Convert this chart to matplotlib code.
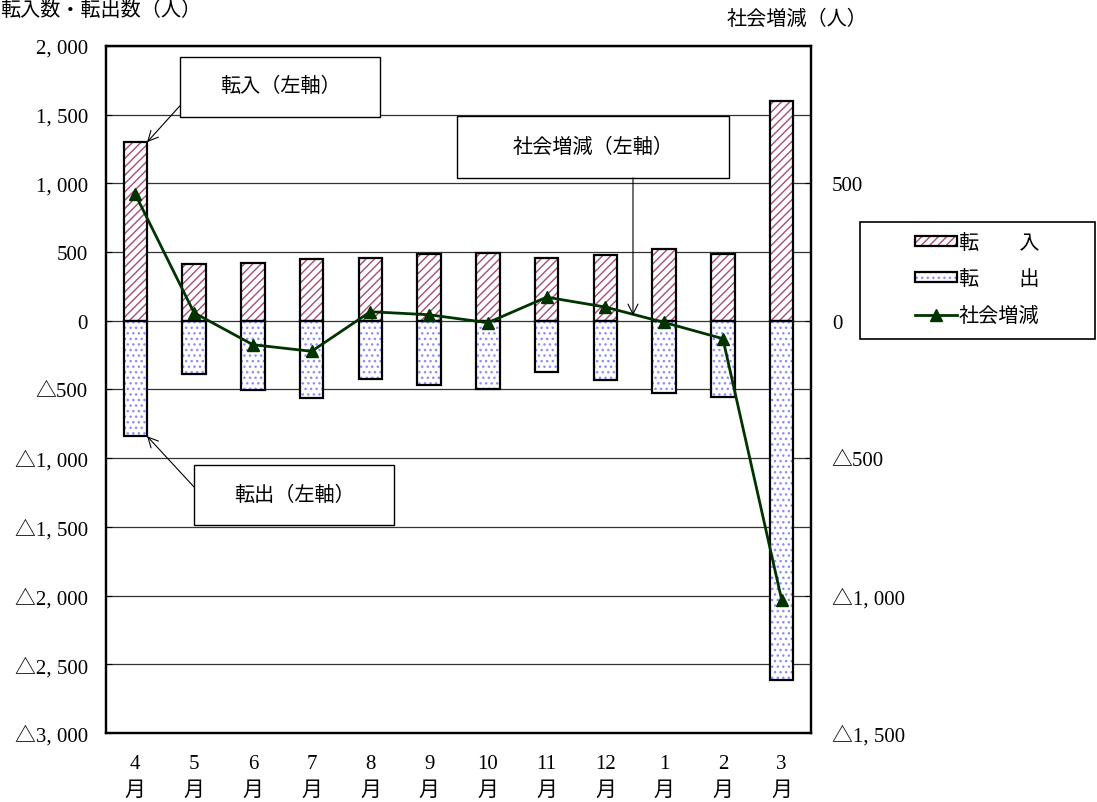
import matplotlib.pyplot as plt
from matplotlib.patches import Patch, Rectangle
from matplotlib.lines import Line2D
from matplotlib.legend_handler import HandlerTuple

plt.rcParams['font.family'] = ['Liberation Serif', 'Noto Sans CJK JP', 'DejaVu Sans']

# データ（4月〜翌3月）
months = ['4\n月', '5\n月', '6\n月', '7\n月', '8\n月', '9\n月',
          '10\n月', '11\n月', '12\n月', '1\n月', '2\n月', '3\n月']
tennyu = [1300, 413, 420, 449, 456, 486, 493, 456, 478, 522, 486, 1601]
tenshutsu = [-840, -384, -507, -560, -423, -464, -500, -370, -428, -528, -551, -2616]
shakai = [a + b for a, b in zip(tennyu, tenshutsu)]

left_ticks = [-3000, -2500, -2000, -1500, -1000, -500, 0, 500, 1000, 1500, 2000]
left_labels = ['△3, 000', '△2, 500', '△2, 000', '△1, 500', '△1, 000', '△500',
               '0', '500', '1, 000', '1, 500', '2, 000']
right_ticks = [-1500, -1000, -500, 0, 500]
right_labels = ['△1, 500', '△1, 000', '△500', '0', '500']

c_in = '#a64d79'
c_out = '#8c8cff'
c_line = '#003300'
h_in = '////'
h_out = '...'

fig = plt.figure(figsize=(10.97, 8.03), dpi=100)
ax = fig.add_axes([0.0966, 0.0859, 0.6427, 0.8556])
x = list(range(len(months)))

ax.bar(x, tennyu, 0.4, color='white', edgecolor=c_in, hatch=h_in, linewidth=0, zorder=2)
ax.bar(x, tennyu, 0.4, fill=False, edgecolor='black', linewidth=1.6, zorder=3)
ax.bar(x, tenshutsu, 0.4, color='white', edgecolor=c_out, hatch=h_out, linewidth=0, zorder=2)
ax.bar(x, tenshutsu, 0.4, fill=False, edgecolor='black', linewidth=1.6, zorder=3)

ax.set_xlim(-0.5, 11.5)
ax.set_ylim(-3000, 2000)
ax.set_yticks(left_ticks, left_labels)
ax.set_xticks(x, months, linespacing=1.55)
ax.yaxis.grid(True, color='#333333', linewidth=0.9)
ax.set_axisbelow(True)
ax.tick_params(axis='y', direction='in', length=4, pad=13, labelsize=15)
ax.tick_params(axis='x', length=0, pad=15, labelsize=15)

ax2 = ax.twinx()
ax2.plot(x, shakai, color=c_line, linewidth=2, marker='^', markersize=9, zorder=4)
ax2.set_ylim(-1500, 1000)
ax2.set_yticks(right_ticks, right_labels)
ax2.tick_params(axis='y', direction='in', length=4, pad=15, labelsize=15)

for a in (ax, ax2):
    for s in a.spines.values():
        s.set_linewidth(1.6)

# 吹き出し
boxes = [
    ((0.105, 0.897, 0.284, 0.087), '転入（左軸）'),
    ((0.498, 0.808, 0.386, 0.090), '社会増減（左軸）'),
    ((0.125, 0.303, 0.284, 0.087), '転出（左軸）'),
]
for (bx, by, bw, bh), txt in boxes:
    ax2.add_patch(Rectangle((bx, by), bw, bh, transform=ax2.transAxes,
                            facecolor='white', edgecolor='black', linewidth=1.0, zorder=6))
    ax2.text(bx + bw / 2, by + bh / 2, txt, transform=ax2.transAxes,
             ha='center', va='center', fontsize=14.5, zorder=7)

arrow = dict(arrowstyle='->', color='black', linewidth=0.8, shrinkA=0, shrinkB=0,
             mutation_scale=18)
ax2.annotate('', xy=(0.2, tennyu[0]), xycoords=ax.transData,
             xytext=(0.105, 0.913), textcoords='axes fraction', arrowprops=arrow, zorder=6)
ax2.annotate('', xy=(0.7475, 0.608), xycoords='axes fraction',
             xytext=(0.7475, 0.808), textcoords='axes fraction', arrowprops=arrow, zorder=6)
ax2.annotate('', xy=(0.2, tenshutsu[0]), xycoords=ax.transData,
             xytext=(0.125, 0.358), textcoords='axes fraction', arrowprops=arrow, zorder=6)

# 軸タイトル
fig.text(0.0, 1 - 11 / 803, '転入数・転出数（人）', ha='left', va='center', fontsize=14.5)
fig.text(727 / 1097, 1 - 20 / 803, '社会増減（人）', ha='left', va='center', fontsize=14.5)

# 凡例
fig.patches.append(Rectangle((860 / 1097, 1 - 340 / 803), 235 / 1097, 117 / 803,
                             transform=fig.transFigure, fill=False,
                             edgecolor='black', linewidth=1.2))
handles = [
    (Patch(facecolor='white', edgecolor=c_in, hatch=h_in, linewidth=0),
     Patch(fill=False, edgecolor='black', linewidth=1.6)),
    (Patch(facecolor='white', edgecolor=c_out, hatch=h_out, linewidth=0),
     Patch(fill=False, edgecolor='black', linewidth=1.6)),
    Line2D([], [], color=c_line, linewidth=2, marker='^', markersize=9),
]
labels = ['転　　入', '転　　出', '社会増減']
fig.legend(handles, labels, handler_map={tuple: HandlerTuple(ndivide=1)},
           loc='center', bbox_to_anchor=(977 / 1097, 1 - 281 / 803),
           frameon=False, fontsize=14.5, handlelength=2.1, handleheight=0.4,
           handletextpad=0.1, labelspacing=0.85)

fig.savefig('out.png', dpi=100)
